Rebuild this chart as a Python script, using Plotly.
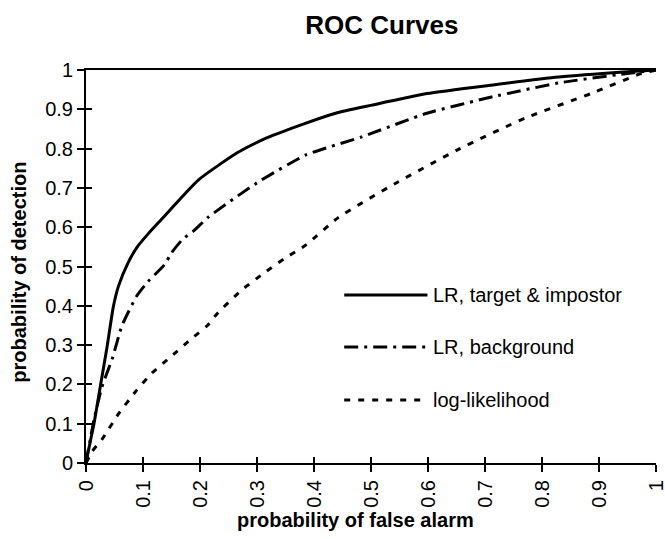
import plotly.graph_objects as go

# ---- data ----
x_lr_ti = [0, 0.002, 0.014, 0.025, 0.037, 0.048, 0.057, 0.074, 0.09, 0.109, 0.128, 0.197, 0.266,
           0.317, 0.386, 0.438, 0.5, 0.598, 0.714, 0.829, 0.943, 1.0]
y_lr_ti = [0, 0.016, 0.10, 0.194, 0.296, 0.398, 0.45, 0.51, 0.55, 0.583, 0.613, 0.72, 0.79,
           0.827, 0.865, 0.89, 0.91, 0.94, 0.962, 0.982, 0.995, 1.0]

x_lr_bg = [0, 0.014, 0.028, 0.046, 0.063, 0.089, 0.109, 0.138, 0.15, 0.17, 0.19, 0.214, 0.30,
           0.386, 0.484, 0.598, 0.714, 0.829, 0.943, 1.0]
y_lr_bg = [0, 0.11, 0.194, 0.265, 0.349, 0.425, 0.462, 0.505, 0.535, 0.57, 0.592, 0.625, 0.713,
           0.784, 0.83, 0.89, 0.932, 0.967, 0.99, 1.0]

x_ll = [0, 0.011, 0.028, 0.057, 0.086, 0.115, 0.15, 0.184, 0.213, 0.23, 0.273, 0.311, 0.348,
        0.386, 0.443, 0.541, 0.656, 0.771, 0.886, 0.972, 1.0]
y_ll = [0, 0.03, 0.06, 0.125, 0.18, 0.228, 0.272, 0.315, 0.35, 0.38, 0.44, 0.482, 0.52,
        0.555, 0.625, 0.71, 0.8, 0.878, 0.94, 0.99, 1.0]

series_names = ["LR, target & impostor", "LR, background", "log-likelihood"]
series_dash = ["solid", "14px,6px,3px,6px", "6px,8px"]
tick_vals = [0, 0.1, 0.2, 0.3, 0.4, 0.5, 0.6, 0.7, 0.8, 0.9, 1]
tick_text = ["0", "0.1", "0.2", "0.3", "0.4", "0.5", "0.6", "0.7", "0.8", "0.9", "1"]

FONT = "Arial, Liberation Sans, Helvetica, sans-serif"

fig = go.Figure()
for xs, ys, name, dash in zip([x_lr_ti, x_lr_bg, x_ll], [y_lr_ti, y_lr_bg, y_ll],
                              series_names, series_dash):
    fig.add_trace(go.Scatter(x=xs, y=ys, mode="lines", name=name,
                             line=dict(color="black", width=3, dash=dash,
                                       shape="spline", smoothing=0.5),
                             showlegend=False))

# legend drawn manually (long samples like the reference)
leg_y = [0.4275, 0.295, 0.160]
for name, dash, ly in zip(series_names, series_dash, leg_y):
    fig.add_shape(type="line", xref="paper", yref="paper", x0=0.453, x1=0.599, y0=ly, y1=ly,
                  line=dict(color="black", width=3, dash=dash))
    fig.add_annotation(xref="paper", yref="paper", x=0.605, y=ly, text=name, showarrow=False,
                       xanchor="left", yanchor="middle",
                       font=dict(family=FONT, size=20, color="black"))

axis_common = dict(range=[0, 1], tickvals=tick_vals, ticktext=tick_text, showgrid=False,
                   zeroline=False, linecolor="black", linewidth=2, tickcolor="black",
                   tickwidth=1.5, automargin=False, ticklabeloverflow="allow",
                   tickfont=dict(family=FONT, size=20, color="black"))

fig.update_layout(
    width=665, height=539,
    margin=dict(l=86, r=9, t=70, b=76),
    paper_bgcolor="white", plot_bgcolor="white",
    title=dict(text="ROC Curves", x=0.519, xref="paper", y=1 - 25 / 539, yref="container",
               xanchor="center", yanchor="middle",
               font=dict(family=FONT, size=26, color="black", weight="bold")),
    xaxis=dict(**axis_common, ticks="outside", ticklen=7, tickangle=-90, showline=True,
               mirror=True),
    yaxis=dict(**axis_common, ticks="outside", ticklen=7, showline=True),
    xaxis2=dict(range=[0, 1], tickvals=tick_vals, ticks="inside", ticklen=6, tickwidth=1.5,
                tickcolor="black", showticklabels=False, showgrid=False, zeroline=False,
                overlaying="x", anchor="y", side="bottom", showline=False, automargin=False),
    yaxis2=dict(range=[0, 1], tickvals=tick_vals, ticks="inside", ticklen=6, tickwidth=1.5,
                tickcolor="black", showticklabels=False, showgrid=False, zeroline=False,
                overlaying="y", anchor="x", side="left", showline=False, automargin=False),
    showlegend=False,
)
# invisible trace to attach overlay axes
fig.add_trace(go.Scatter(x=[0, 1], y=[0, 1], xaxis="x2", yaxis="y2", mode="lines",
                         line=dict(width=0), hoverinfo="skip", showlegend=False))

fig.add_annotation(xref="paper", yref="paper", x=-0.117, y=0.485, text="probability of detection",
                   textangle=-90, showarrow=False, xanchor="center", yanchor="middle",
                   font=dict(family=FONT, size=20, color="black", weight="bold"))
fig.add_annotation(xref="paper", yref="paper", x=0.472, y=-0.145, text="probability of false alarm",
                   showarrow=False, xanchor="center", yanchor="middle",
                   font=dict(family=FONT, size=20, color="black", weight="bold"))

fig.write_html("out.html")
